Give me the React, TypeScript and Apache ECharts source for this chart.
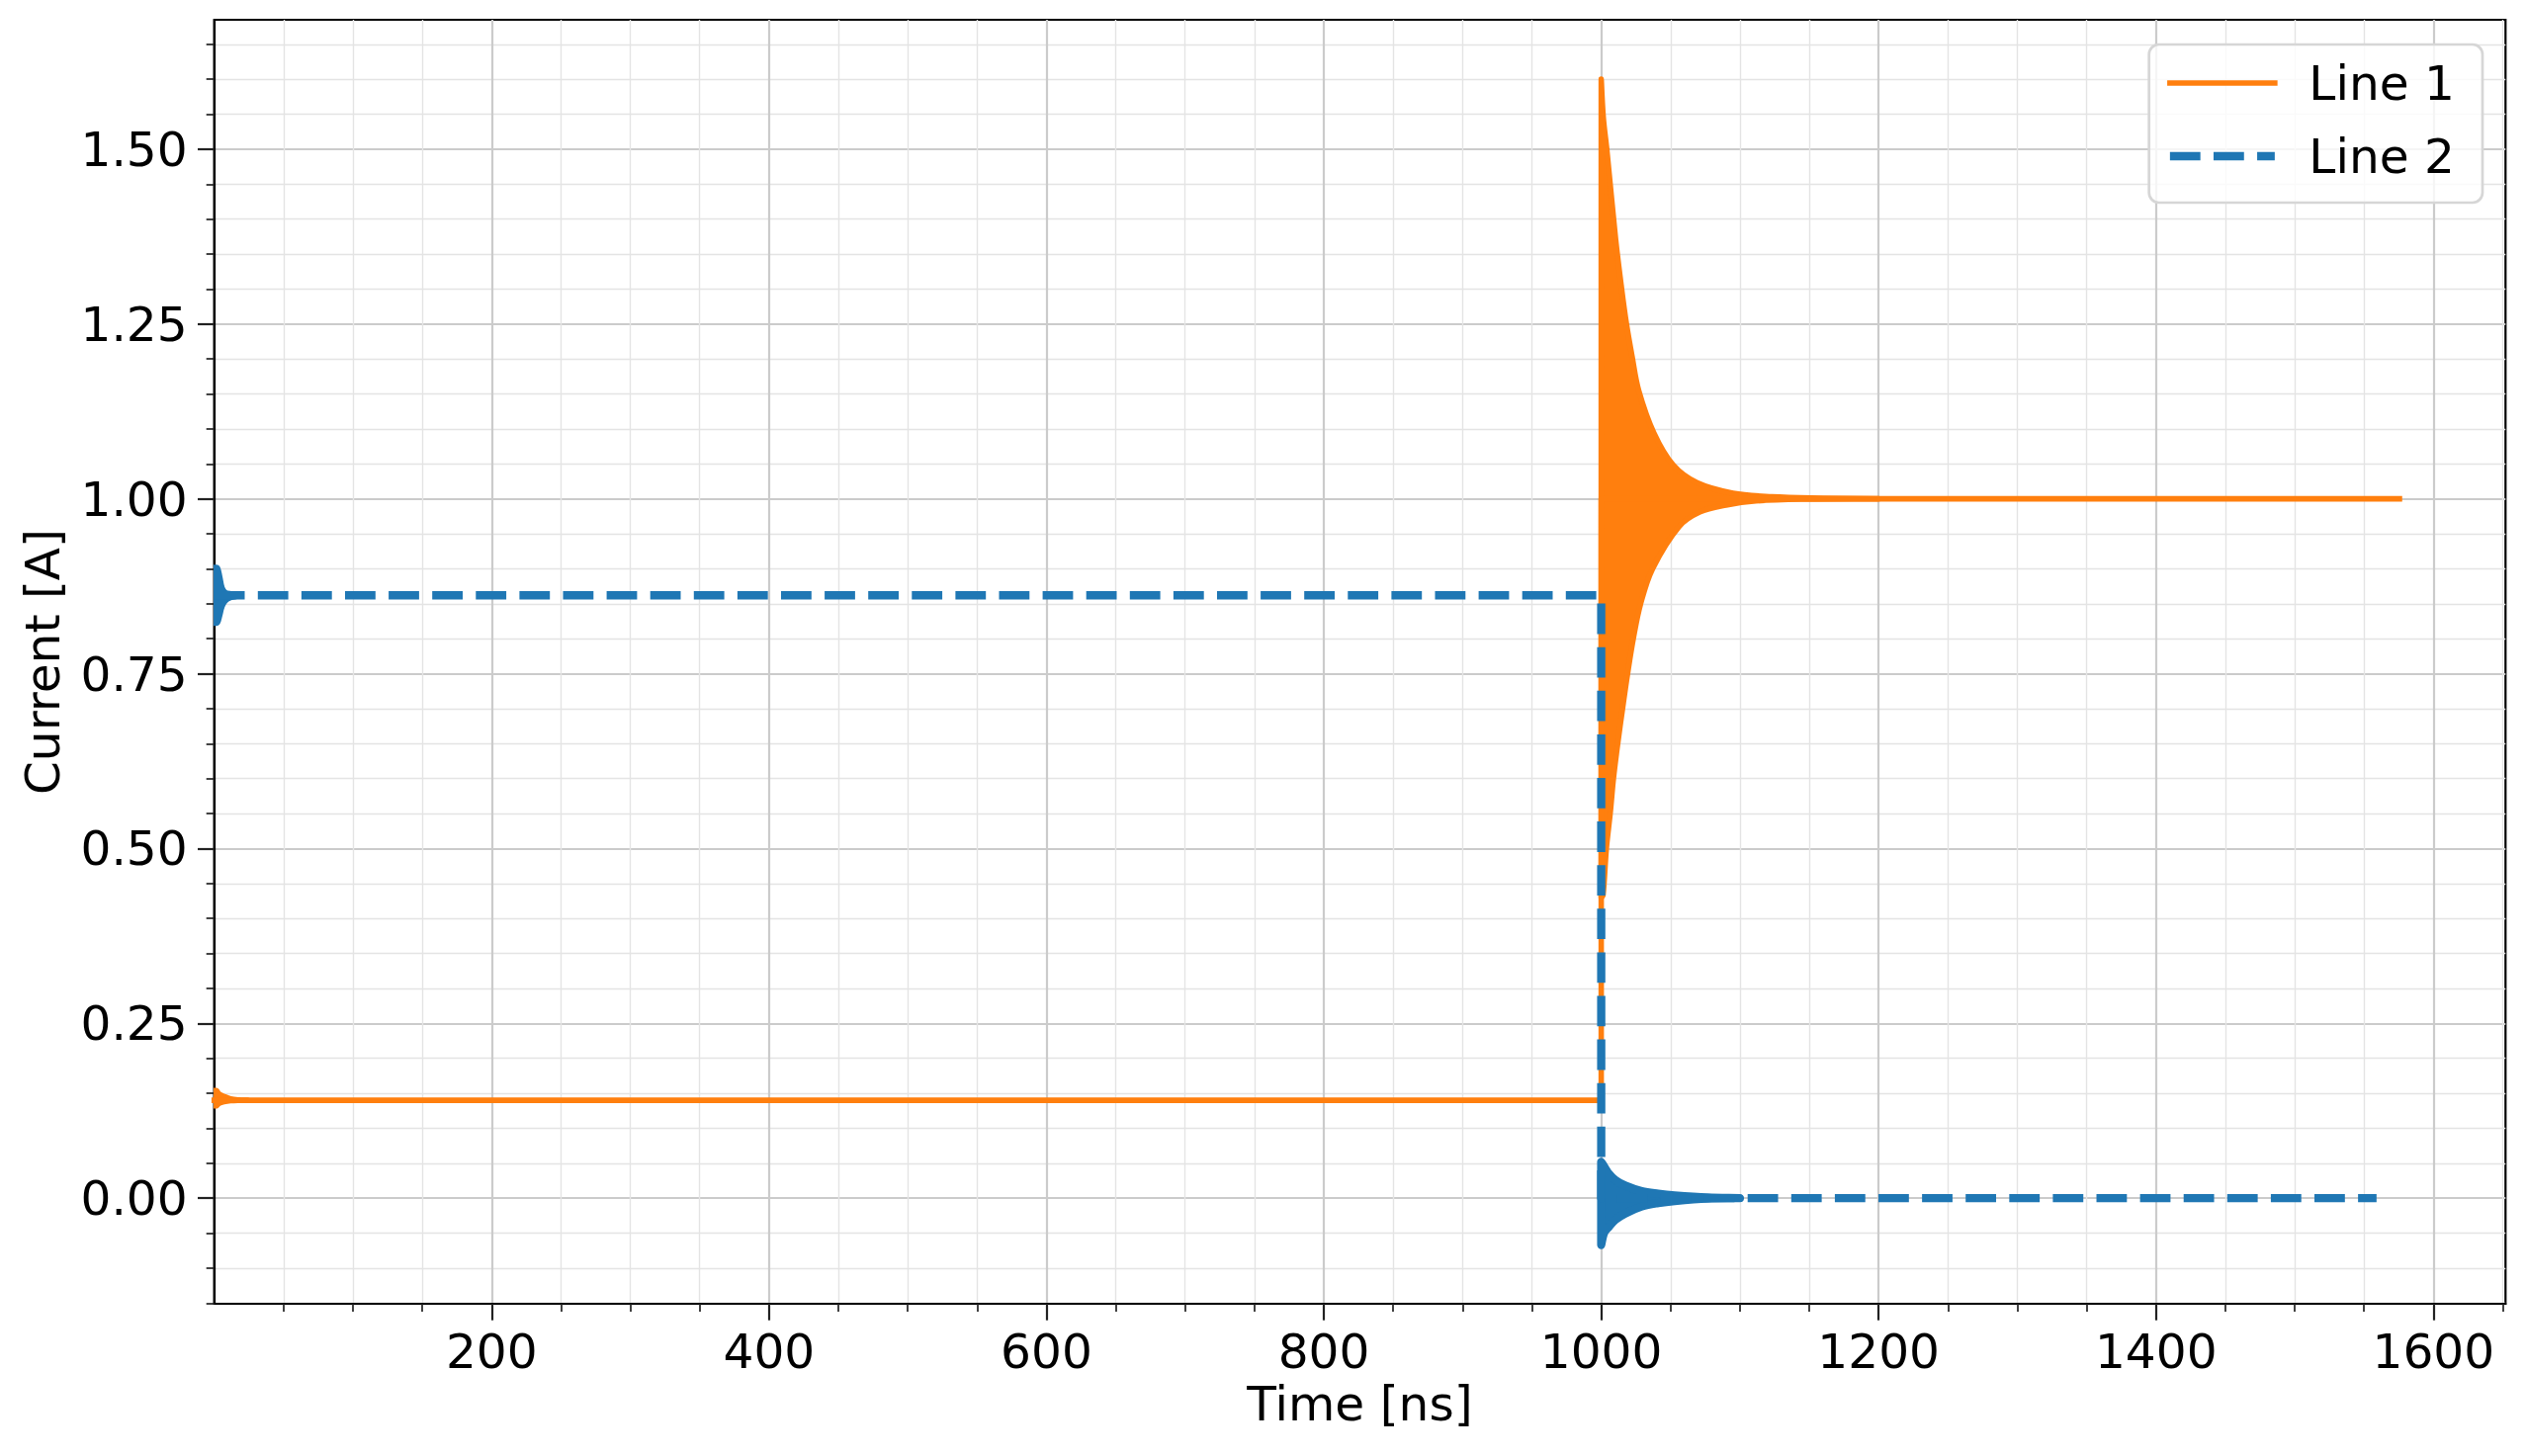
import React, { useEffect, useRef } from "react";
import * as echarts from "echarts";

// ---------------- data ----------------
// Line 1: steady levels (time in ns, current in A)
const line1Time = [0, 1000, 1000, 1575.5];
const line1Value = [0.14, 0.14, 1.0, 1.0];
// Line 2: steady levels
const line2Time = [0, 1000, 1000, 1559];
const line2Value = [0.862, 0.862, 0.0, 0.0];

// Envelope of the fast ringing (filled band), Line 1 at switch-on
const line1StartTime = [0, 1.5, 3.4, 7, 11.8, 17.7, 24];
const line1StartUpper = [0.154, 0.154, 0.149, 0.1455, 0.142, 0.1405, 0.14];
const line1StartLower = [0.132, 0.132, 0.1356, 0.138, 0.1395, 0.14, 0.14];

// Envelope of the ringing of Line 1 after the step at 1000 ns
const line1StepUpperTime = [1000, 1001.5, 1004, 1010.4, 1014.6, 1018.2, 1022.2, 1027, 1038, 1052, 1069, 1095, 1123, 1160, 1200];
const line1StepUpper = [1.6, 1.545, 1.5, 1.371, 1.302, 1.25, 1.204, 1.155, 1.094, 1.048, 1.023, 1.008, 1.003, 1.001, 1.0];
const line1StepLowerTime = [1000, 1001.3, 1003.7, 1006.5, 1008.8, 1011.9, 1015.5, 1019, 1023.2, 1028.4, 1037, 1056, 1071, 1090, 1111.6, 1147, 1200];
const line1StepLower = [0.43, 0.433, 0.5, 0.551, 0.6, 0.65, 0.702, 0.75, 0.801, 0.85, 0.9, 0.96, 0.981, 0.991, 0.997, 0.9995, 1.0];

// Envelope of Line 2 at switch-on
const line2StartTime = [0, 1.5, 3, 4.7, 7.1, 10.7, 15.4];
const line2StartUpper = [0.9, 0.9, 0.888, 0.872, 0.865, 0.8625, 0.862];
const line2StartLower = [0.824, 0.824, 0.834, 0.847, 0.855, 0.86, 0.862];

// Envelope of Line 2 after the step at 1000 ns
const line2StepUpperTime = [1000, 1005.5, 1010.2, 1017.3, 1029.2, 1041.1, 1053, 1076.7, 1100];
const line2StepUpper = [0.052, 0.035, 0.026, 0.018, 0.01, 0.0064, 0.004, 0.001, 0];
const line2StepLowerTime = [1000, 1002, 1005.5, 1010.2, 1017.3, 1029.2, 1041.1, 1053, 1076.7, 1100];
const line2StepLower = [-0.067, -0.05, -0.041, -0.031, -0.022, -0.012, -0.007, -0.004, -0.0005, 0];

// axes
const xMin = 0;
const xMax = 1652;
const xStep = 200;
const xTickValues = [200, 400, 600, 800, 1000, 1200, 1400, 1600];
const yMin = -0.151;
const yMax = 1.685;
const yStep = 0.25;
const yTickValues = [0, 0.25, 0.5, 0.75, 1.0, 1.25, 1.5];

const seriesNames = ["Line 1", "Line 2"];

// ---------------- styles ----------------
const ORANGE = "#ff7f0e";
const BLUE = "#1f77b4";
const FONT = "DejaVu Sans";
const FS = 48.6;
const W1 = 5.56;
const W2 = 8.33;
const DASH = [30.8, 13.3];

type Band = { hiT: number[]; hi: number[]; loT: number[]; lo: number[] };

const bands1: Band[] = [
  { hiT: line1StartTime, hi: line1StartUpper, loT: line1StartTime, lo: line1StartLower },
  { hiT: line1StepUpperTime, hi: line1StepUpper, loT: line1StepLowerTime, lo: line1StepLower },
];
const bands2: Band[] = [
  { hiT: line2StartTime, hi: line2StartUpper, loT: line2StartTime, lo: line2StartLower },
  { hiT: line2StepUpperTime, hi: line2StepUpper, loT: line2StepLowerTime, lo: line2StepLower },
];

function zip(t: number[], v: number[]) {
  return t.map((x, i) => [x, v[i]]);
}

function bandSeries(name: string, bands: Band[], color: string, width: number) {
  return {
    type: "custom",
    name,
    coordinateSystem: "cartesian2d",
    clip: true,
    silent: true,
    data: bands.map((b, i) => [b.hiT[0], b.hi[0], i]),
    encode: { x: 0, y: 1 },
    renderItem: (_params: any, api: any) => {
      const b = bands[api.value(2)];
      const pts: number[][] = [];
      for (let k = 0; k < b.hiT.length; k++) pts.push(api.coord([b.hiT[k], b.hi[k]]));
      for (let k = b.loT.length - 1; k >= 0; k--) pts.push(api.coord([b.loT[k], b.lo[k]]));
      let x0 = Infinity, y0 = Infinity, x1 = -Infinity, y1 = -Infinity;
      pts.forEach((p) => {
        x0 = Math.min(x0, p[0]); y0 = Math.min(y0, p[1]);
        x1 = Math.max(x1, p[0]); y1 = Math.max(y1, p[1]);
      });
      return {
        type: "polygon",
        shape: { points: pts, smooth: 0.35, smoothConstraint: [[x0, y0], [x1, y1]] },
        style: { fill: color, stroke: color, lineWidth: width, lineJoin: "round" },
      };
    },
  };
}

export default function App() {
  const ref = useRef<HTMLDivElement>(null);

  useEffect(() => {
    if (!ref.current) return;
    const chart = echarts.init(ref.current, undefined, { renderer: "svg" });

    const tickLine = { color: "#222", width: 2.2 };
    const minorTickLine = { color: "#222", width: 1.7 };
    const majorGrid = { color: "#cbcbcb", width: 2.2 };
    const minorGrid = { color: "#e4e4e4", width: 1.4 };
    const hiddenSymbol = { color: "rgba(0,0,0,0)", borderWidth: 0, opacity: 0 };

    const option: any = {
      animation: false,
      backgroundColor: "#ffffff",
      textStyle: { fontFamily: FONT },
      grid: {
        left: 216.7,
        right: 20.7,
        top: 20,
        bottom: 154,
        show: true,
        borderColor: "#000",
        borderWidth: 2.2,
        backgroundColor: "transparent",
        containLabel: false,
      },
      legend: {
        orient: "vertical",
        right: 44,
        top: 45,
        padding: [11, 28, 19, 17],
        itemWidth: 106,
        itemHeight: 56,
        itemGap: 18,
        backgroundColor: "rgba(255,255,255,0.8)",
        borderColor: "#d6d6d6",
        borderWidth: 2.7,
        borderRadius: 10,
        selectedMode: false,
        textStyle: {
          fontFamily: FONT,
          fontSize: FS,
          color: "#000",
          lineHeight: 56,
          padding: [0, 0, 0, 29.5],
        },
        data: [
          {
            name: seriesNames[0],
            itemStyle: hiddenSymbol,
            lineStyle: { color: ORANGE, width: W1, type: "solid" },
          },
          {
            name: seriesNames[1],
            itemStyle: hiddenSymbol,
            lineStyle: { color: BLUE, width: W2, type: DASH, cap: "butt" },
          },
        ],
      },
      xAxis: {
        type: "value",
        min: xMin,
        max: xMax,
        interval: xStep,
        name: "Time [ns]",
        nameLocation: "middle",
        nameGap: 71,
        nameTextStyle: { fontFamily: FONT, fontSize: FS, color: "#000" },
        axisLine: { show: true, onZero: false, lineStyle: { color: "#000", width: 2.2 } },
        axisTick: { show: true, length: 16.7, inside: false, lineStyle: tickLine, customValues: xTickValues },
        minorTick: { show: true, splitNumber: 4, length: 8, lineStyle: minorTickLine },
        axisLabel: {
          fontFamily: FONT,
          fontSize: FS,
          color: "#000",
          margin: 23,
          showMinLabel: false,
          showMaxLabel: false,
          formatter: (v: number) => String(Math.round(v)),
        },
        splitLine: { show: true, lineStyle: majorGrid },
        minorSplitLine: { show: true, lineStyle: minorGrid },
      },
      yAxis: {
        type: "value",
        min: yMin,
        max: yMax,
        minInterval: yStep,
        maxInterval: yStep,
        splitNumber: 7,
        name: "Current [A]",
        nameLocation: "middle",
        nameGap: 149,
        nameTextStyle: { fontFamily: FONT, fontSize: FS, color: "#000" },
        axisLine: { show: true, onZero: false, lineStyle: { color: "#000", width: 2.2 } },
        axisTick: { show: true, length: 16.7, inside: false, lineStyle: tickLine, customValues: yTickValues },
        minorTick: { show: true, splitNumber: 5, length: 8, lineStyle: minorTickLine },
        axisLabel: {
          fontFamily: FONT,
          fontSize: FS,
          color: "#000",
          margin: 27,
          showMinLabel: false,
          showMaxLabel: false,
          formatter: (v: number) => v.toFixed(2),
        },
        splitLine: { show: true, lineStyle: majorGrid },
        minorSplitLine: { show: true, lineStyle: minorGrid },
      },
      series: [
        {
          type: "line",
          name: seriesNames[0],
          data: zip(line1Time, line1Value),
          symbol: "none",
          showSymbol: false,
          itemStyle: { color: ORANGE },
          lineStyle: { color: ORANGE, width: W1, type: "solid", cap: "square", join: "round" },
          emphasis: { disabled: true },
          silent: true,
        },
        bandSeries("band1", bands1, ORANGE, W1),
        {
          type: "line",
          name: seriesNames[1],
          data: zip(line2Time, line2Value),
          symbol: "none",
          showSymbol: false,
          itemStyle: { color: BLUE },
          lineStyle: { color: BLUE, width: W2, type: DASH, cap: "butt", join: "round" },
          emphasis: { disabled: true },
          silent: true,
        },
        bandSeries("band2", bands2, BLUE, W2),
      ],
    };

    chart.setOption(option);
    return () => chart.dispose();
  }, []);

  return (
    <div
      ref={ref}
      style={{ position: "fixed", left: 0, top: 0, width: 2555, height: 1473, background: "#fff" }}
    />
  );
}
